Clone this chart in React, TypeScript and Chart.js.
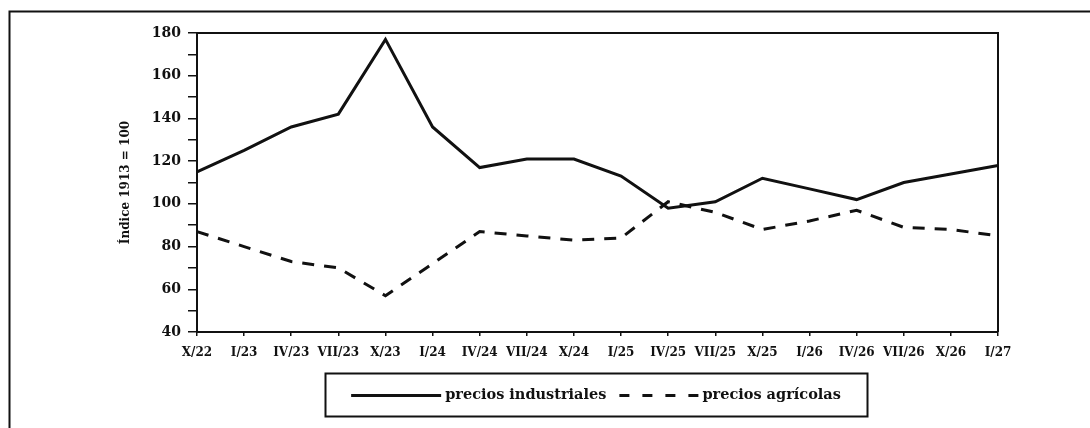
import React, { useEffect, useRef } from "react";
import { Chart, registerables } from "chart.js";

Chart.register(...registerables);

const categories = [
  "X/22", "I/23", "IV/23", "VII/23", "X/23", "I/24", "IV/24", "VII/24", "X/24",
  "I/25", "IV/25", "VII/25", "X/25", "I/26", "IV/26", "VII/26", "X/26", "I/27",
];
const preciosIndustriales = [115, 125, 136, 142, 177, 136, 117, 121, 121, 113, 98, 101, 112, 107, 102, 110, 114, 118];
const preciosAgricolas = [87, 80, 73, 70, 57, 72, 87, 85, 83, 84, 101, 96, 88, 92, 97, 89, 88, 85];
const seriesLabels = ["precios industriales", "precios agrícolas"];
const yAxisTitle = "Índice 1913 = 100";

const INK = "#111";
const SERIF = "'DejaVu Serif', serif";

const framePlugin = {
  id: "frame",
  afterDraw(chart: any) {
    const ctx = chart.ctx;
    const { left, right, top, bottom } = chart.chartArea;
    ctx.save();
    // outer page frame
    ctx.strokeStyle = INK;
    ctx.lineWidth = 2;
    ctx.beginPath();
    ctx.moveTo(9.5, 460);
    ctx.lineTo(9.5, 11.5);
    ctx.lineTo(1095, 11.5);
    ctx.stroke();
    // plot box top & right
    ctx.beginPath();
    ctx.moveTo(left, top);
    ctx.lineTo(right, top);
    ctx.lineTo(right, bottom);
    ctx.stroke();

    // legend box
    const bx = 325, by = 373, bw = 542, bh = 43;
    ctx.lineWidth = 2;
    ctx.strokeRect(bx + 0.5, by + 0.5, bw, bh);

    ctx.font = "bold 14.5px " + SERIF;
    ctx.fillStyle = INK;
    ctx.textBaseline = "middle";
    const ds = chart.data.datasets;
    const t1 = ds[0].label, t2 = ds[1].label;
    const w1 = ctx.measureText(t1).width;
    const w2 = ctx.measureText(t2).width;
    const seg1 = 90, gap1 = 4, gap2 = 13, seg2 = 80, gap3 = 3;
    const total = seg1 + gap1 + w1 + gap2 + seg2 + gap3 + w2;
    let x = bx + (bw - total) / 2;
    const y = by + bh / 2 + 1;
    // solid sample
    ctx.strokeStyle = ds[0].borderColor;
    ctx.lineWidth = ds[0].borderWidth;
    ctx.setLineDash(ds[0].borderDash || []);
    ctx.beginPath();
    ctx.moveTo(x, y);
    ctx.lineTo(x + seg1, y);
    ctx.stroke();
    x += seg1 + gap1;
    ctx.fillText(t1, x, y);
    x += w1 + gap2;
    ctx.strokeStyle = ds[1].borderColor;
    ctx.lineWidth = ds[1].borderWidth;
    ctx.setLineDash([10, 13]);
    ctx.beginPath();
    ctx.moveTo(x, y);
    ctx.lineTo(x + seg2, y);
    ctx.stroke();
    ctx.setLineDash([]);
    x += seg2 + gap3;
    ctx.fillText(t2, x, y);
    ctx.restore();
  },
};

export default function App() {
  const ref = useRef<HTMLCanvasElement | null>(null);

  useEffect(() => {
    if (!ref.current) return;
    const chart = new Chart(ref.current, {
      type: "line",
      data: {
        labels: categories,
        datasets: [
          {
            label: seriesLabels[0],
            data: preciosIndustriales,
            borderColor: INK,
            backgroundColor: INK,
            borderWidth: 3,
            pointRadius: 0,
            tension: 0,
            fill: false,
          },
          {
            label: seriesLabels[1],
            data: preciosAgricolas,
            borderColor: INK,
            backgroundColor: INK,
            borderWidth: 3,
            borderDash: [12, 10],
            pointRadius: 0,
            tension: 0,
            fill: false,
          },
        ],
      },
      options: {
        responsive: false,
        animation: false,
        events: [],
        layout: { padding: { top: 33, right: 92, bottom: 56, left: 0 } },
        plugins: {
          legend: { display: false },
          tooltip: { enabled: false },
          title: { display: false },
        },
        scales: {
          x: {
            type: "category",
            offset: false,
            grid: {
              drawOnChartArea: false,
              drawTicks: true,
              tickLength: 4,
              color: INK,
              lineWidth: 1.5,
            },
            border: { display: true, color: INK, width: 2 },
            ticks: {
              autoSkip: false,
              maxRotation: 0,
              minRotation: 0,
              color: INK,
              padding: 10,
              font: { family: SERIF, weight: "bold", size: 12 },
            },
            afterFit: (s: any) => {
              s.height = 40;
            },
          },
          y: {
            min: 40,
            max: 180,
            ticks: {
              stepSize: 10,
              color: INK,
              padding: 7,
              font: { family: SERIF, weight: "bold", size: 14 },
              callback: (v: any) => (Number(v) % 20 === 0 ? String(v) : ""),
            },
            grid: {
              drawOnChartArea: false,
              drawTicks: true,
              tickLength: 9,
              color: INK,
              lineWidth: 1.5,
            },
            border: { display: true, color: INK, width: 2 },
            title: {
              display: true,
              text: yAxisTitle,
              color: INK,
              font: { family: SERIF, weight: "bold", size: 12 },
              padding: { top: 119, bottom: 0 },
            },
            afterFit: (s: any) => {
              s.width = 197;
            },
          },
        },
      },
      plugins: [framePlugin],
    });
    return () => chart.destroy();
  }, []);

  return (
    <div
      style={{
        position: "fixed",
        left: 0,
        top: 0,
        width: 1090,
        height: 428,
        overflow: "hidden",
        background: "#fff",
      }}
    >
      <canvas ref={ref} width={1090} height={428} style={{ display: "block" }} />
    </div>
  );
}
